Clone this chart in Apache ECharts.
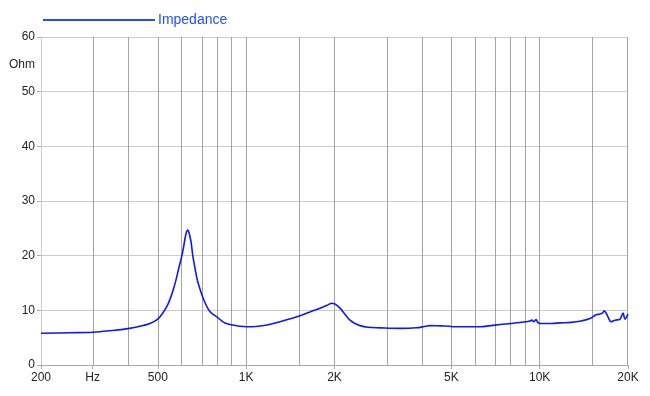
<!DOCTYPE html>
<html>
<head>
<meta charset="utf-8">
<script src="https://cdn.jsdelivr.net/npm/echarts@6/dist/echarts.min.js"></script>
<style>html,body{margin:0;padding:0;background:#fff;}#c{width:650px;height:396px;}</style>
</head>
<body>
<div id="c"></div>
<script>
// Frequencies (Hz) and impedance (Ohm)
var freqs = [200,250,300,350,400,435,470,500,520,538,550,563,575,590,604,614,622,628,632,636,643,650,658,670,682,702,720,747,770,795,820,847,900,950,1000,1100,1200,1304,1400,1526,1650,1785,1900,1957,2000,2088,2170,2258,2350,2443,2600,2858,3343,3800,4100,4230,4600,4950,5050,5500,6260,6800,7330,8000,8917,9200,9420,9550,9720,9850,10025,11000,11730,12800,13720,14840,15560,16000,16440,16570,16800,17100,17500,18060,18790,19230,19530,20000];
var impedance = [5.8,5.9,6.0,6.3,6.7,7.1,7.6,8.4,9.5,10.8,12.0,13.6,15.3,17.8,20.0,22.0,23.7,24.5,24.7,24.5,23.6,22.3,20.0,17.6,15.5,13.3,11.7,10.0,9.3,8.8,8.2,7.7,7.3,7.1,7.0,7.1,7.4,7.9,8.4,9.0,9.7,10.4,11.0,11.3,11.2,10.4,9.3,8.2,7.6,7.2,6.9,6.8,6.7,6.8,7.1,7.2,7.15,7.1,7.0,7.0,7.0,7.2,7.4,7.6,7.9,8.0,8.2,7.9,8.3,7.8,7.6,7.6,7.7,7.8,8.0,8.5,9.2,9.3,9.6,9.9,9.6,8.8,7.9,8.2,8.4,9.5,8.4,9.3];
var xTickFreqs = [200,300,500,1000,2000,5000,10000,20000];
var xTickLabels = ['200','Hz','500','1K','2K','5K','10K','20K'];
var gridFreqs = [300,400,500,600,700,800,900,1000,1500,2000,3000,4000,5000,6000,7000,8000,9000,10000,15000,20000];
var yTicks = [0,10,20,30,40,50,60];
var seriesName = 'Impedance';
var yUnit = 'Ohm';

var lg = function(v){ return Math.log10(v); };
var xTickPos = xTickFreqs.map(lg);
var data = freqs.map(function(f,i){ return [lg(f), impedance[i]]; });
var font = 'Liberation Sans, Arial, sans-serif';

var chart = echarts.init(document.getElementById('c'), null, {renderer:'canvas'});
chart.setOption({
  animation: false,
  backgroundColor: '#fff',
  textStyle: {fontFamily: font},
  grid: {left: 41, top: 37, right: 22, bottom: 31, containLabel: false},
  legend: {
    data: [seriesName], left: 38, top: 8,
    icon: 'rect', itemWidth: 112, itemHeight: 2, itemGap: 4,
    textStyle: {color: '#1f4fff', fontSize: 14, fontFamily: font, padding: [0,0,2,-2]}
  },
  graphic: [{type: 'text', left: 9, top: 59, style: {text: yUnit, fill: '#222', font: '12px ' + font}}],
  xAxis: {
    type: 'value', min: lg(200), max: lg(20000),
    axisLine: {show: true, lineStyle: {color: '#aaa'}},
    axisTick: {show: true, customValues: xTickPos, length: 4, lineStyle: {color: '#aaa'}},
    axisLabel: {
      customValues: xTickPos, color: '#222', fontSize: 12, margin: 7, fontFamily: font,
      formatter: function(v){
        var best = 0, bd = 1e9;
        for (var i = 0; i < xTickPos.length; i++) { var d = Math.abs(xTickPos[i]-v); if (d < bd) { bd = d; best = i; } }
        return xTickLabels[best];
      }
    },
    splitLine: {show: false}
  },
  yAxis: {
    type: 'value', min: yTicks[0], max: yTicks[yTicks.length-1], interval: 10,
    axisLine: {show: true, lineStyle: {color: '#ccc'}},
    axisTick: {show: true, length: 4, lineStyle: {color: '#aaa'}},
    axisLabel: {color: '#222', fontSize: 12, margin: 6, fontFamily: font},
    splitLine: {show: true, lineStyle: {color: '#cbcbcb', width: 1}}
  },
  series: [
    {
      name: 'grid', type: 'line', data: [], z: 1, silent: true,
      markLine: {
        silent: true, symbol: ['none','none'], label: {show: false}, animation: false,
        lineStyle: {color: '#a3a3a3', type: 'solid', width: 1},
        emphasis: {disabled: true},
        data: gridFreqs.map(function(f){ return {xAxis: lg(f)}; })
      }
    },
    {
      name: seriesName, type: 'line', data: data, z: 5,
      showSymbol: false, smooth: 0.35,
      itemStyle: {color: '#1f4fff'},
      lineStyle: {color: '#0b1bf0', width: 1.6}
    }
  ]
});
</script>
</body>
</html>
